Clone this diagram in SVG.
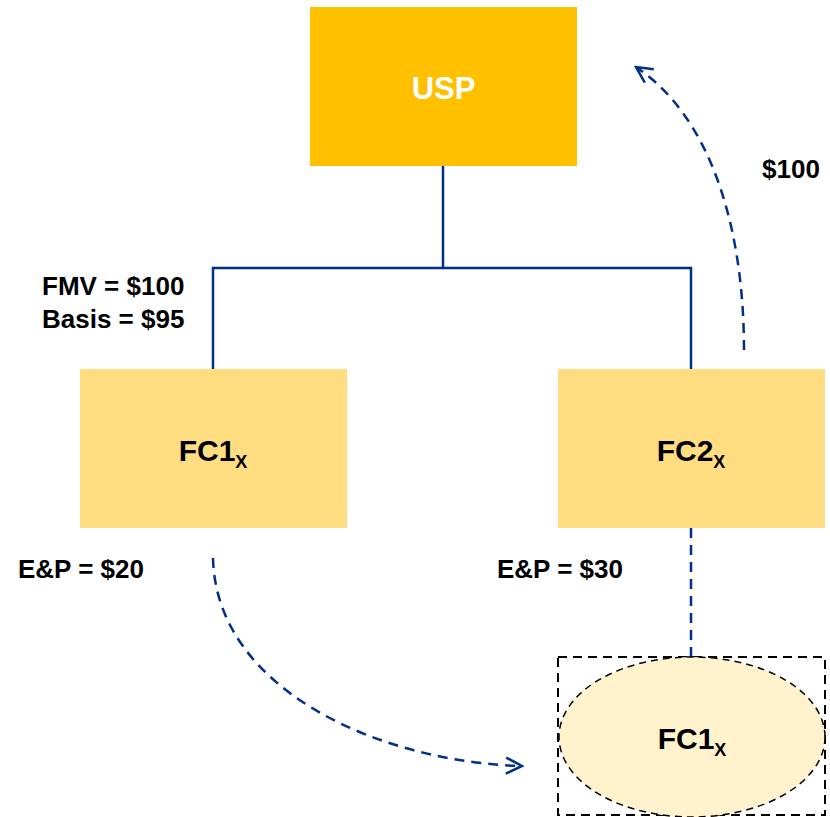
<svg xmlns="http://www.w3.org/2000/svg" width="830" height="817" viewBox="0 0 830 817">
<style>
.lbl{font-family:"Liberation Sans",Arial,sans-serif;font-weight:bold;font-size:26px;fill:#000}
.node{font-family:"Liberation Sans",Arial,sans-serif;font-weight:bold;font-size:30px;fill:#000}
.sub{font-size:18px}
.tree{stroke:#002F87;stroke-width:2.5;fill:none}
.flow{stroke:#002F87;stroke-width:2.5;fill:none;stroke-dasharray:10 7}
</style>
<defs>
<marker id="open" viewBox="0 0 20 20" refX="18" refY="10" markerWidth="20" markerHeight="20" markerUnits="userSpaceOnUse" orient="auto">
<path d="M2,2 L18,10 L2,18" fill="none" stroke="#002F87" stroke-width="2.5"/>
</marker>
</defs>
<rect width="830" height="817" fill="#fff"/>
<g id="connectors">
<path class="tree" d="M443,166 V268 M213,369 V268 H691 V369"/>
<path class="flow" d="M691,528 V657"/>
<path class="flow" d="M213,558 C216,690 380,762 522,766" marker-end="url(#open)"/>
<path class="flow" d="M744,350 C744,230 712,118 636,67" marker-end="url(#open)"/>
</g>
<g id="usp">
<rect x="310" y="7" width="267" height="159" fill="#FFC000"/>
<text x="443.5" y="99" text-anchor="middle" class="node" style="fill:#fff;font-size:31px">USP</text>
</g>
<g id="fc1">
<rect x="80" y="369" width="267" height="159" fill="#FFDD80"/>
<text x="213" y="461" text-anchor="middle" class="node">FC1<tspan class="sub" dy="7">X</tspan></text>
</g>
<g id="fc2">
<rect x="558" y="369" width="267" height="159" fill="#FFDD80"/>
<text x="691" y="461" text-anchor="middle" class="node">FC2<tspan class="sub" dy="7">X</tspan></text>
</g>
<g id="fc1-new">
<rect x="558" y="657" width="267" height="158" fill="none" stroke="#000" stroke-width="2" stroke-dasharray="9 6"/>
<ellipse cx="692" cy="737" rx="133" ry="80" fill="#FFF2CC" stroke="#000" stroke-width="1.5" stroke-dasharray="7 5"/>
<text x="692" y="749" text-anchor="middle" class="node">FC1<tspan class="sub" dy="7">X</tspan></text>
</g>
<g id="labels">
<text x="762" y="178" class="lbl">$100</text>
<text x="42" y="295" class="lbl">FMV = $100</text>
<text x="42" y="328" class="lbl">Basis = $95</text>
<text x="18" y="578" class="lbl">E&amp;P = $20</text>
<text x="497" y="578" class="lbl">E&amp;P = $30</text>
</g>
</svg>
